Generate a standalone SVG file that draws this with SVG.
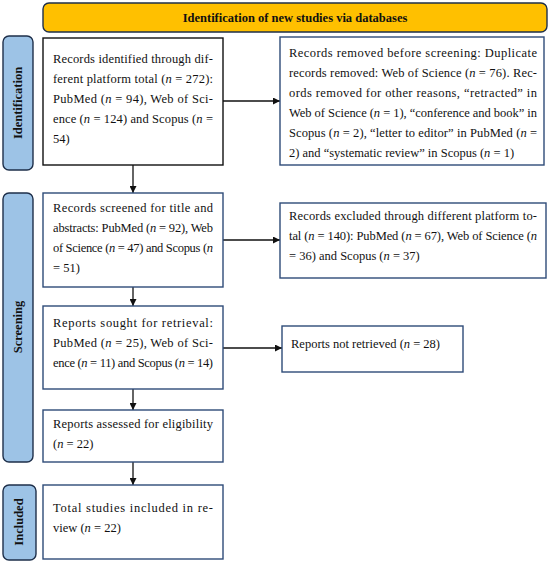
<svg xmlns="http://www.w3.org/2000/svg" width="550" height="563" viewBox="0 0 550 563">
<style>
.bx{fill:#fff;stroke:#2E4B78;stroke-width:1.4}
.bk{fill:#fff;stroke:#111;stroke-width:1.4}
.lab{fill:#9DC3E6;stroke:#1E2F4A;stroke-width:1.4}
.t{font-family:"Liberation Serif","DejaVu Serif",serif;font-size:12.5px;fill:#111}
.lt{font-family:"Liberation Serif","DejaVu Serif",serif;font-size:12.5px;font-weight:bold;fill:#111;text-anchor:middle}
.i{font-style:italic}
.c{stroke:#111;stroke-width:1.3;fill:none;marker-end:url(#ah)}
</style>
<defs>
<marker id="ah" viewBox="0 0 10 10" refX="10" refY="5" markerWidth="7" markerHeight="7" markerUnits="userSpaceOnUse" orient="auto">
<path d="M0,0 L10,5 L0,10 z" fill="#111"/>
</marker>
</defs>

<g id="title">
<rect x="43" y="3" width="504" height="29" rx="6" fill="#FFC000" stroke="#1E2F4A" stroke-width="1.4"/>
<text class="lt" x="295" y="22">Identification of new studies via databases</text>
</g>

<g id="label-identification">
<rect class="lab" x="3" y="36" width="30" height="134" rx="6"/>
<text class="lt" transform="translate(22,103) rotate(-90)">Identification</text>
</g>
<g id="label-screening">
<rect class="lab" x="3" y="193" width="30" height="269" rx="6"/>
<text class="lt" transform="translate(22,327) rotate(-90)">Screening</text>
</g>
<g id="label-included">
<rect class="lab" x="3" y="485" width="33" height="75" rx="6"/>
<text class="lt" transform="translate(23,522) rotate(-90)">Included</text>
</g>

<g id="connectors">
<path class="c" d="M133,165 V193"/>
<path class="c" d="M133,287 V306"/>
<path class="c" d="M133,389 V410"/>
<path class="c" d="M133,462 V485"/>
<path class="c" d="M223,101 H280"/>
<path class="c" d="M223,240 H280"/>
<path class="c" d="M223,348 H282"/>
</g>

<g id="identified">
<rect class="bk" x="43" y="38" width="180" height="127"/>
<text class="t" x="53" y="63" textLength="160" lengthAdjust="spacing">Records identified through dif-</text>
<text class="t" x="53" y="83" textLength="160" lengthAdjust="spacing">ferent platform total (<tspan class="i">n</tspan> = 272):</text>
<text class="t" x="53" y="103" textLength="160" lengthAdjust="spacing">PubMed (<tspan class="i">n</tspan> = 94), Web of Sci-</text>
<text class="t" x="53" y="123" textLength="160" lengthAdjust="spacing">ence (<tspan class="i">n</tspan> = 124) and Scopus (<tspan class="i">n</tspan> =</text>
<text class="t" x="53" y="143">54)</text>
</g>

<g id="removed">
<rect class="bx" x="280" y="37" width="264" height="128"/>
<text class="t" x="289" y="57" textLength="248" lengthAdjust="spacing">Records removed before screening: Duplicate</text>
<text class="t" x="289" y="77" textLength="248" lengthAdjust="spacing">records removed: Web of Science (<tspan class="i">n</tspan> = 76). Rec-</text>
<text class="t" x="289" y="97" textLength="248" lengthAdjust="spacing">ords removed for other reasons, “retracted” in</text>
<text class="t" x="289" y="117" textLength="248" lengthAdjust="spacing">Web of Science (<tspan class="i">n</tspan> = 1), “conference and book” in</text>
<text class="t" x="289" y="137" textLength="248" lengthAdjust="spacing">Scopus (<tspan class="i">n</tspan> = 2), “letter to editor” in PubMed (<tspan class="i">n</tspan> =</text>
<text class="t" x="289" y="157">2) and “systematic review” in Scopus (<tspan class="i">n</tspan> = 1)</text>
</g>

<g id="screened">
<rect class="bx" x="43" y="193" width="180" height="94"/>
<text class="t" x="53" y="212" textLength="160" lengthAdjust="spacing">Records screened for title and</text>
<text class="t" x="53" y="232" textLength="160" lengthAdjust="spacing">abstracts: PubMed (<tspan class="i">n</tspan> = 92), Web</text>
<text class="t" x="53" y="252" textLength="160" lengthAdjust="spacing">of Science (<tspan class="i">n</tspan> = 47) and Scopus (<tspan class="i">n</tspan></text>
<text class="t" x="53" y="272">= 51)</text>
</g>

<g id="excluded">
<rect class="bx" x="280" y="203" width="266" height="75"/>
<text class="t" x="289" y="220" textLength="248" lengthAdjust="spacing">Records excluded through different platform to-</text>
<text class="t" x="289" y="240" textLength="248" lengthAdjust="spacing">tal (<tspan class="i">n</tspan> = 140): PubMed (<tspan class="i">n</tspan> = 67), Web of Science (<tspan class="i">n</tspan></text>
<text class="t" x="289" y="260">= 36) and Scopus (<tspan class="i">n</tspan> = 37)</text>
</g>

<g id="sought">
<rect class="bx" x="43" y="306" width="180" height="83"/>
<text class="t" x="53" y="327" textLength="160" lengthAdjust="spacing">Reports sought for retrieval:</text>
<text class="t" x="53" y="347" textLength="160" lengthAdjust="spacing">PubMed (<tspan class="i">n</tspan> = 25), Web of Sci-</text>
<text class="t" x="53" y="367" textLength="160" lengthAdjust="spacing">ence (<tspan class="i">n</tspan> = 11) and Scopus (<tspan class="i">n</tspan> = 14)</text>
</g>

<g id="not-retrieved">
<rect class="bx" x="282" y="326" width="181" height="46"/>
<text class="t" x="291" y="348">Reports not retrieved (<tspan class="i">n</tspan> = 28)</text>
</g>

<g id="assessed">
<rect class="bx" x="43" y="410" width="180" height="52"/>
<text class="t" x="53" y="428" textLength="160" lengthAdjust="spacing">Reports assessed for eligibility</text>
<text class="t" x="53" y="448">(<tspan class="i">n</tspan> = 22)</text>
</g>

<g id="included">
<rect class="bx" x="43" y="485" width="180" height="74"/>
<text class="t" x="53" y="512" textLength="160" lengthAdjust="spacing">Total studies included in re-</text>
<text class="t" x="53" y="532">view (<tspan class="i">n</tspan> = 22)</text>
</g>
</svg>
